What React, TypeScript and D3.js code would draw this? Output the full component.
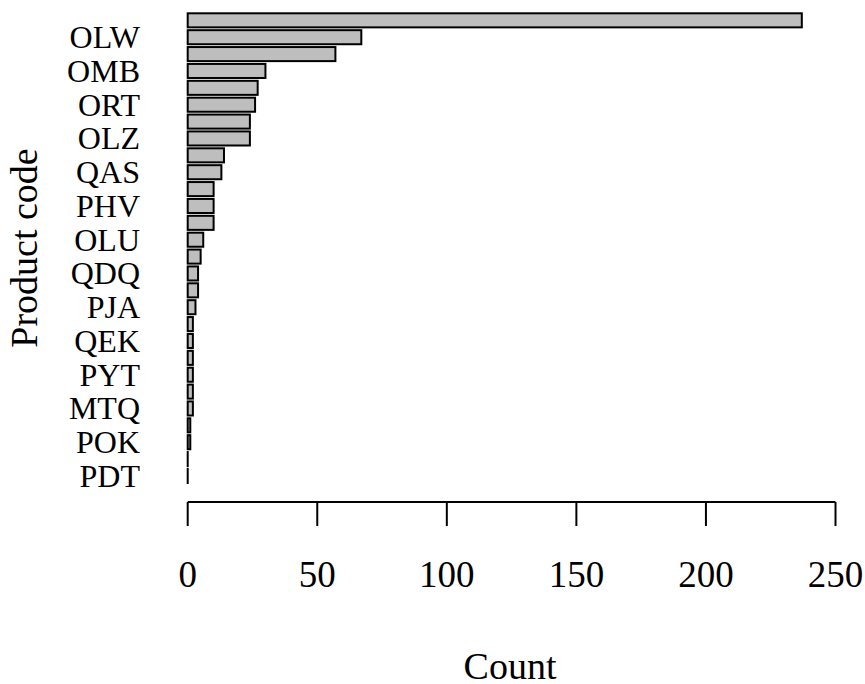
import React from "react";
import * as d3 from "d3";

// Bars listed top to bottom; "" = code not printed in the reference (label skipped)
const codes = ["", "OLW", "", "OMB", "", "ORT", "", "OLZ", "", "QAS", "", "PHV", "", "OLU", "", "QDQ", "", "PJA", "", "QEK", "", "PYT", "", "MTQ", "", "POK", "", "PDT"];
const counts = [237, 67, 57, 30, 27, 26, 24, 24, 14, 13, 10, 10, 10, 6, 5, 4, 4, 3, 2, 2, 2, 2, 2, 2, 1, 1, 0, 0];
const xTicks = [0, 50, 100, 150, 200, 250];
const xTitle = "Count";
const yTitle = "Product code";

const W = 865;
const H = 684;
const FONT = "'Liberation Serif', 'Times New Roman', serif";

export default function App() {
  const x = d3.scaleLinear().domain([0, 250]).range([187.7, 835.5]);
  const idx = counts.map((_, i) => i);
  const y = d3
    .scaleBand<number>()
    .domain(idx)
    .range([13.3, 483])
    .paddingInner(0.2 / 1.2)
    .paddingOuter(0);
  const axisY = 502;
  return (
    <svg
      width={W}
      height={H}
      style={{ position: "absolute", left: 0, top: 0, background: "#fff" }}
      fontFamily={FONT}
    >
      {idx.map((i) => (
        <rect
          key={i}
          x={x(0)}
          y={y(i)!}
          width={Math.max(x(counts[i]) - x(0), 0.01)}
          height={y.bandwidth()}
          fill="#bebebe"
          stroke="#000"
          strokeWidth={2}
        />
      ))}
      {idx.map((i) =>
        codes[i] ? (
          <text
            key={"l" + i}
            x={140}
            y={y(i)! + y.bandwidth() / 2 + 11}
            textAnchor="end"
            fontSize={32}
            fill="#000"
          >
            {codes[i]}
          </text>
        ) : null
      )}
      <line x1={x(0)} x2={x(250)} y1={axisY} y2={axisY} stroke="#000" strokeWidth={2} />
      {xTicks.map((t) => (
        <g key={t}>
          <line x1={x(t)} x2={x(t)} y1={axisY} y2={axisY + 24} stroke="#000" strokeWidth={2} />
          <text x={x(t)} y={587} textAnchor="middle" fontSize={37} fill="#000">
            {t}
          </text>
        </g>
      ))}
      <text x={510} y={679} textAnchor="middle" fontSize={38} fill="#000">
        {xTitle}
      </text>
      <text
        transform={`translate(37, 248) rotate(-90)`}
        textAnchor="middle"
        fontSize={38}
        fill="#000"
      >
        {yTitle}
      </text>
    </svg>
  );
}
